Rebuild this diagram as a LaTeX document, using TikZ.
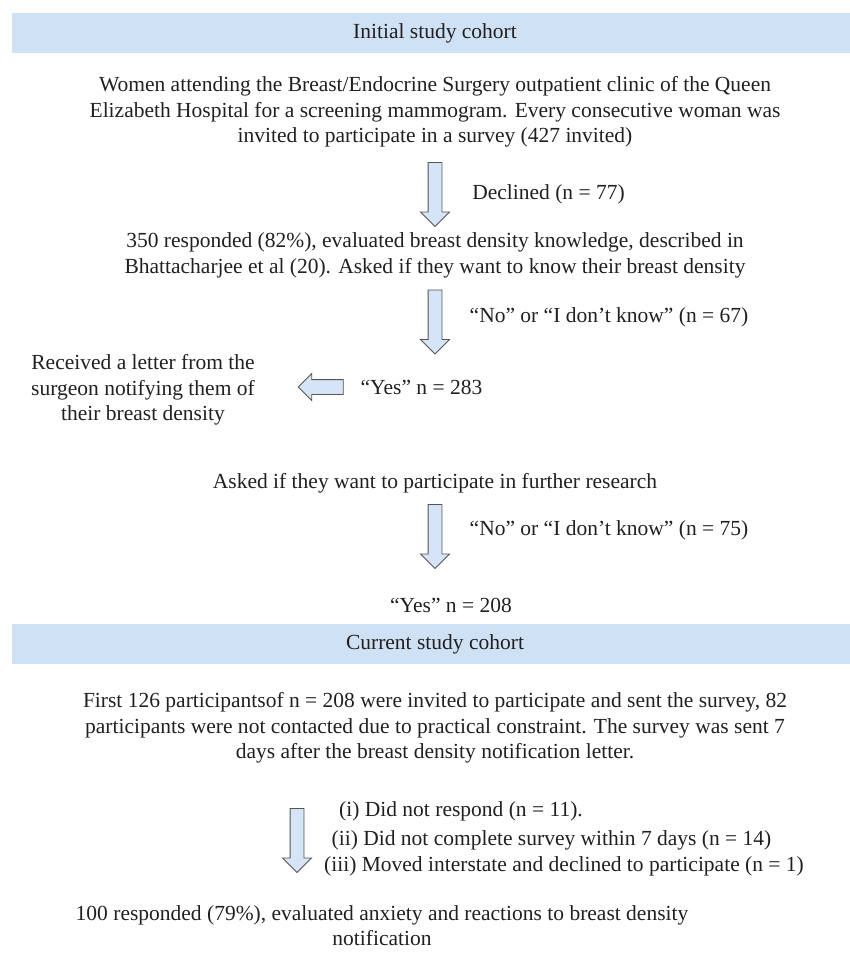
\documentclass[tikz,border=0pt]{standalone}
\usepackage{fontspec}
\setmainfont{Liberation Serif}
\usepackage{xcolor}
\usepackage{tikz}
\usetikzlibrary{shapes,arrows,positioning}

\definecolor{bandblue}{RGB}{207,225,244}
\definecolor{arrowblue}{RGB}{213,228,246}
\definecolor{arrowgray}{RGB}{85,85,85}
\definecolor{textgray}{RGB}{35,31,32}

\begin{document}
\begin{tikzpicture}[on grid, >=latex, every node/.style={font=\fontsize{21.5}{25.5}\selectfont, text=textgray, inner sep=0pt}, band/.style={fill=bandblue, minimum width=846pt, minimum height=40pt}, txt/.style={align=center}, downarrow/.style={single arrow, draw=arrowgray, fill=arrowblue, line width=0.9pt, shape border rotate=270, inner sep=6.5pt, single arrow head extend=7.5pt, single arrow head indent=0pt, minimum height=64pt}, leftarrow/.style={single arrow, draw=arrowgray, fill=arrowblue, line width=0.9pt, shape border rotate=180, inner sep=7pt, single arrow head extend=6pt, single arrow head indent=0pt, minimum height=45pt}]
    \useasboundingbox (0,0) rectangle (850pt,-957pt);

    \node[band] (B1) at (435pt,-33pt) {Initial study cohort};
    \node[txt, below=79pt of B1] (P1) {Women attending the Breast/Endocrine Surgery outpatient clinic of the Queen\\ Elizabeth Hospital for a screening mammogram. Every consecutive woman was\\ invited to participate in a survey (427 invited)};
    \node[downarrow, below=79pt of P1] (A1) {};
    \node[below right=3pt and 113.5pt of A1] (L1) {Declined (n = 77)};

    \node[txt, below=64.5pt of A1] (P2) {350 responded (82\%), evaluated breast density knowledge, described in\\ Bhattacharjee et al (20). Asked if they want to know their breast density};
    \node[downarrow, below=63pt of P2] (A2) {};
    \node[above right=1.5pt and 174pt of A2] (L2) {“No” or “I don’t know” (n = 67)};
    \node[below left=68.5pt and 13.5pt of A2] (Y1) {“Yes” n = 283};
    \node[leftarrow, left=97pt of Y1] (LA) {};
    \node[txt, below left=3pt and 181.5pt of LA] (R) {Received a letter from the\\ surgeon notifying them of\\ their breast density};

    \node[below=164.5pt of A2] (Q) {Asked if they want to participate in further research};
    \node[downarrow, below=50pt of Q] (A3) {};
    \node[above right=3pt and 174pt of A3] (L3) {“No” or “I don’t know” (n = 75)};
    \node[below right=72pt and 16pt of A3] (Y2) {“Yes” n = 208};

    \node[band, below=111pt of A3] (B2) {Current study cohort};
    \node[txt, below=84pt of B2] (P3) {First 126 participantsof n = 208 were invited to participate and sent the survey, 82\\ participants were not contacted due to practical constraint. The survey was sent 7\\ days after the breast density notification letter.};
    \node[downarrow, below left=109pt and 138pt of P3] (A4) {};
    \node[above right=26pt and 164pt of A4] (E1) {(i) Did not respond (n = 11).};
    \node[below right=3pt and 254.5pt of A4] (E2) {(ii) Did not complete survey within 7 days (n = 14)};
    \node[below right=29pt and 267pt of A4] (E3) {(iii) Moved interstate and declined to participate (n = 1)};
    \node[txt, below right=88.5pt and 85pt of A4] (F) {100 responded (79\%), evaluated anxiety and reactions to breast density\\ notification};
\end{tikzpicture}
\end{document}
